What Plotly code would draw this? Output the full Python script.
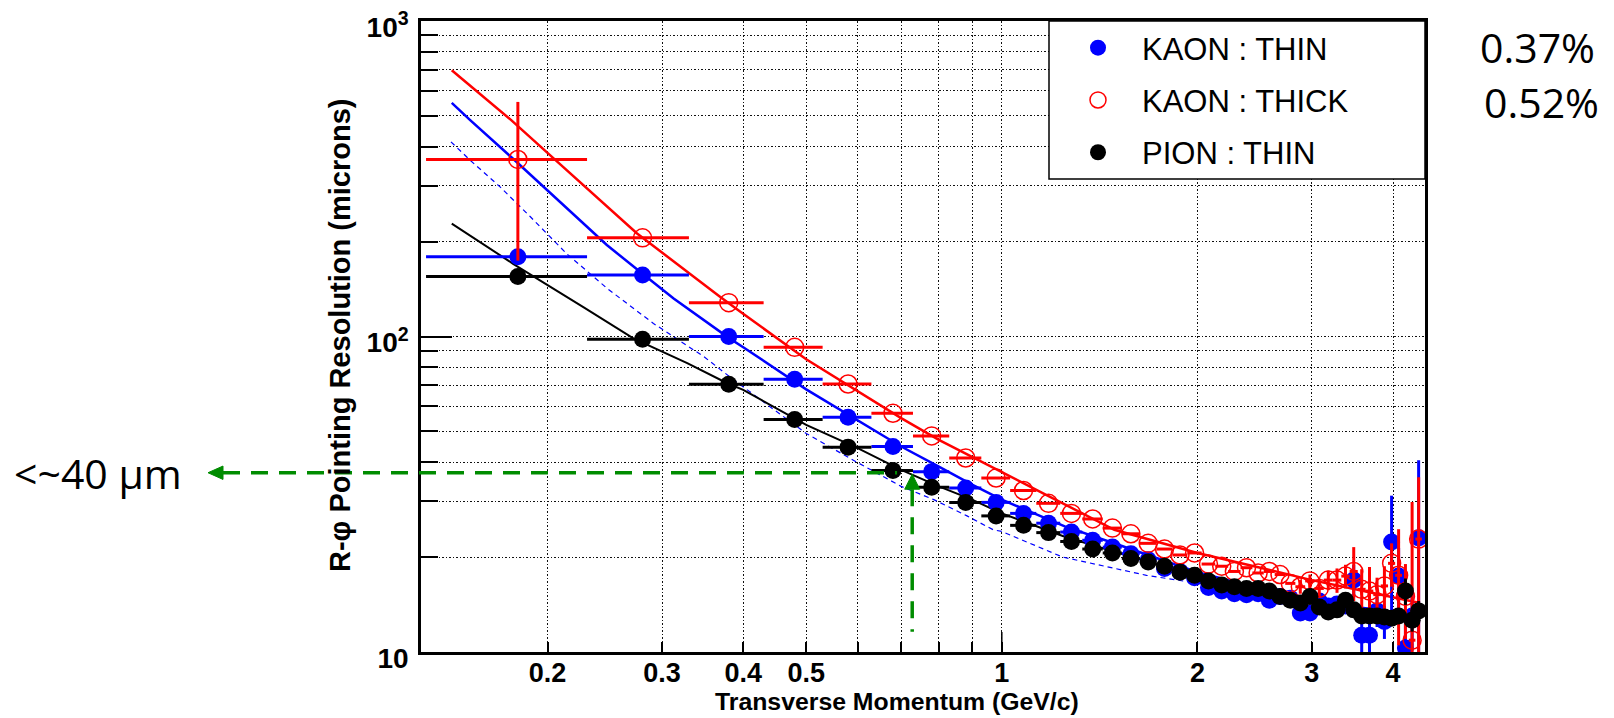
import math
import plotly.graph_objects as go

# ---------------- data ----------------
p_bins = [0.18, 0.28, 0.38, 0.48, 0.58, 0.68, 0.78, 0.88, 0.98, 1.08,
          1.18, 1.28, 1.38, 1.48, 1.58, 1.68, 1.78, 1.88, 1.98, 2.08,
          2.18, 2.28, 2.38, 2.48, 2.58, 2.68, 2.78, 2.88, 2.98, 3.08,
          3.18, 3.28, 3.38, 3.48, 3.58, 3.68, 3.78, 3.88, 3.98, 4.08,
          4.18, 4.28, 4.38]
p_half_width = 0.05

kaon_thin = [179, 156.6, 100, 73.2, 55.5, 44.8, 37.3, 33.1, 29.8, 27.5,
             25.6, 24.0, 22.6, 21.5, 20.5, 19.6, 18.4, 18.0, 17.2, 16.0,
             15.6, 15.3, 15.2, 15.3, 14.6, 15.0, 14.8, 13.3, 13.3, 14.5,
             14.0, 14.2, 14.0, 16.9, 11.3, 11.3, 13.5, 12.5, 22.3, 17.4,
             10.3, 13.0, 23.0]
kaon_thin_err = [0, 0, 0, 0, 0, 0, 0, 0, 0, 0,
                 0, 0, 0, 0, 0, 0, 0, 0, 0, 0,
                 0, 0, 0, 0, 0, 0, 0, 0.5, 0.5, 0.5,
                 0.6, 0.6, 0.8, 2.0, 1.5, 1.5, 1.5, 1.5, 9.0, 4.0,
                 3.0, 2.5, 17.5]

kaon_thick = [364, 205.5, 128, 92.4, 70.7, 57.1, 48.4, 41.2, 35.6, 32.5,
              29.6, 27.5, 26.4, 24.7, 23.7, 22.1, 21.2, 20.3, 20.6, 19.0,
              18.7, 18.0, 18.5, 17.8, 18.0, 17.6, 16.5, 16.1, 16.8, 15.9,
              16.9, 16.9, 17.4, 18.0, 15.8, 15.6, 15.2, 16.2, 19.1, 17.5,
              15.0, 10.9, 22.8]
kaon_thick_err = [190, 0, 0, 0, 0, 0, 0, 0, 0, 0,
                  0, 0, 0, 0, 0, 0, 0, 0, 0, 0,
                  0, 0, 0, 0, 0, 0, 0, 0.8, 0.8, 1.0,
                  1.2, 1.5, 1.5, 3.5, 2.5, 3.0, 2.0, 2.5, 3.0, 7.0,
                  4.0, 19.0, 13.0]

pion_thin = [155, 98, 70.6, 54.6, 44.6, 37.6, 33.3, 29.8, 27.0, 25.2,
             23.9, 22.4, 21.2, 20.6, 19.8, 19.3, 18.7, 17.9, 17.5, 16.8,
             16.3, 16.1, 15.9, 15.9, 15.6, 15.0, 14.6, 14.3, 15.0, 13.9,
             13.4, 13.6, 14.6, 13.6, 13.0, 13.0, 13.0, 12.9, 12.8, 13.0,
             15.6, 12.6, 13.5]
pion_thin_err = [0] * 28 + [0.4, 0.4, 0.4, 0.5, 0.5, 0.5, 0.5, 0.5,
                            0.5, 0.6, 0.6, 0.7, 1.5, 1.0, 1.0]

# fitted curves
fit_thick_p = [0.1424, 0.1758, 0.2043, 0.2746, 0.3684, 0.396, 0.5, 0.6, 0.7, 0.8,
               0.9, 1.0, 1.17, 1.49, 2.0, 2.5, 3.0, 3.5, 4.0, 4.4]
fit_thick_r = [698, 485, 367, 212, 133.7, 119.8, 84.7, 66.9, 55.1, 47.0,
               41.6, 37.1, 31.5, 24.4, 20.6, 18.5, 16.9, 15.8, 14.9, 14.3]

fit_thin_p = [0.1424, 0.152, 0.178, 0.2, 0.2467, 0.28, 0.3126, 0.38, 0.4, 0.5,
              0.6, 0.7, 0.8, 0.9, 1.0, 1.25, 1.5, 2.0, 2.5, 3.0, 3.5, 4.0, 4.4]
fit_thin_r = [550, 485, 362, 290, 195, 158, 132, 99, 92.5, 68,
              54.4, 44.8, 38.7, 33.9, 30.4, 25.0, 22.0, 17.9, 15.9, 14.7, 13.9, 13.4, 13.1]

fit_pion_p = [0.1424, 0.177, 0.227, 0.271, 0.328, 0.378, 0.4, 0.5, 0.6, 0.7,
              0.8, 0.9, 1.0, 1.25, 1.5, 2.0, 2.5, 3.0, 3.5, 4.0, 4.4]
fit_pion_r = [228, 170, 124, 98.7, 82.3, 71.1, 67.7, 52.5, 44.3, 37.8,
              33.5, 30.4, 27.5, 23.2, 20.7, 17.4, 15.7, 14.5, 13.6, 13.0, 12.7]

ideal_p = [0.142, 0.152, 0.169, 0.188, 0.214, 0.247, 0.291, 0.348, 0.387, 0.5,
           0.59, 0.7, 0.786, 0.884, 0.97, 1.0, 1.24, 1.67, 2.17, 3.0, 4.4]
ideal_r = [414, 362, 298, 240, 183, 142, 110, 86.3, 72.8, 49.3,
           40.6, 33.5, 30.4, 27.0, 24.4, 24.1, 20.0, 17.5, 16.1, 14.0, 12.6]

x_tick_vals = [0.2, 0.3, 0.4, 0.5, 1, 2, 3, 4]
x_tick_text = ["0.2", "0.3", "0.4", "0.5", "1", "2", "3", "4"]
x_minor_vals = [0.6, 0.7, 0.8, 0.9]
y_tick_vals = [10, 100, 1000]
y_tick_text = ["10", "10<sup>2</sup>", "10<sup>3</sup>"]
y_minor_vals = [20, 30, 40, 50, 60, 70, 80, 90, 200, 300, 400, 500, 600, 700, 800, 900]

x_range_vals = [0.1277, 4.48]
y_range_vals = [10, 1000]

# annotation (target resolution marker)
ann_p = 0.728        # GeV/c where the vertical arrow sits
ann_p_hend = 0.69    # end of horizontal dashed line
ann_res = 37.0       # microns
ann_res_low = 11.6   # bottom of vertical dashed line

# ---------------- layout geometry (page pixels) ----------------
W, H = 1614, 718
PAGE_OFF = 8                     # default body margin of the html page
ML, MT = 421, 21                 # plot-area left / top on the page
PW, PH = 1004, 631               # plot-area size
XR = [math.log10(v) for v in x_range_vals]
YR = [math.log10(v) for v in y_range_vals]


def xpaper(v):
    return (math.log10(v) - XR[0]) / (XR[1] - XR[0])


def ypaper(v):
    return (math.log10(v) - YR[0]) / (YR[1] - YR[0])


def px2x(px):
    return (px - ML) / PW


def py2y(py):
    return (MT + PH - py) / PH


BLUE = "#0000ff"
RED = "#ff0000"
BLACK = "#000000"
GREEN = "#008c00"
FONT = "Liberation Sans, Arial, sans-serif"
SANS = "Open Sans, Noto Sans, sans-serif"

fig = go.Figure()

# fit curves
fig.add_trace(go.Scatter(x=ideal_p, y=ideal_r, mode="lines", showlegend=False,
                         line=dict(color=BLUE, width=1.2, dash="5px,4px"), hoverinfo="skip"))
fig.add_trace(go.Scatter(x=fit_thick_p, y=fit_thick_r, mode="lines", showlegend=False,
                         line=dict(color=RED, width=2.5), hoverinfo="skip"))
fig.add_trace(go.Scatter(x=fit_thin_p, y=fit_thin_r, mode="lines", showlegend=False,
                         line=dict(color=BLUE, width=2.5), hoverinfo="skip"))
fig.add_trace(go.Scatter(x=fit_pion_p, y=fit_pion_r, mode="lines", showlegend=False,
                         line=dict(color=BLACK, width=2), hoverinfo="skip"))


def err(arr, color):
    return dict(type="data", array=arr, visible=True, color=color, thickness=3, width=0)


def xerr(color):
    return dict(type="constant", value=p_half_width, visible=True, color=color, thickness=3, width=0)


fig.add_trace(go.Scatter(x=p_bins, y=kaon_thin, mode="markers", name="KAON : THIN",
                         legendgroup="a",
                         marker=dict(symbol="circle", size=17, color=BLUE),
                         error_x=xerr(BLUE), error_y=err(kaon_thin_err, BLUE)))
fig.add_trace(go.Scatter(x=p_bins, y=kaon_thick, mode="markers", name="KAON : THICK",
                         legendgroup="b",
                         marker=dict(symbol="circle-open", size=18, color=RED, line=dict(width=1.5, color=RED)),
                         error_x=xerr(RED), error_y=err(kaon_thick_err, RED)))
fig.add_trace(go.Scatter(x=p_bins, y=pion_thin, mode="markers", name="PION : THIN",
                         legendgroup="c",
                         marker=dict(symbol="circle", size=17, color=BLACK),
                         error_x=xerr(BLACK), error_y=err(pion_thin_err, BLACK)))

grid = dict(showgrid=True, gridcolor="#111111", gridwidth=1.2, griddash="1.5px,2px")

fig.update_xaxes(type="log", range=XR, tickvals=x_tick_vals, ticktext=x_tick_text,
                 ticks="inside", ticklen=10, tickwidth=1.5, tickcolor="black",
                 showline=True, linewidth=2.5, linecolor="black", mirror=True, zeroline=False,
                 automargin=False, ticklabeloverflow="allow",
                 tickfont=dict(family=FONT, size=27, color="black", weight="bold"),
                 ticklabelstandoff=-5,
                 minor=dict(tickvals=x_minor_vals, ticks="inside", ticklen=10, tickwidth=1.5,
                            tickcolor="black", **grid),
                 **grid)
fig.update_yaxes(type="log", range=YR, tickvals=y_tick_vals, ticktext=y_tick_text,
                 ticks="inside", ticklen=31, tickwidth=1.5, tickcolor="black",
                 showline=True, linewidth=2.5, linecolor="black", mirror=True, zeroline=False,
                 automargin=False, ticklabeloverflow="allow",
                 tickfont=dict(family=FONT, size=28, color="black", weight="bold"),
                 ticklabelstandoff=4, ticklabelshift=6,
                 minor=dict(tickvals=y_minor_vals, ticks="inside", ticklen=17, tickwidth=1.5,
                            tickcolor="black", **grid),
                 **grid)

shapes = []
# legend frame
shapes.append(dict(type="rect", xref="paper", yref="paper",
                   x0=px2x(1049), x1=1.0, y0=py2y(179), y1=1.0,
                   fillcolor="white", line=dict(color="black", width=1.5), layer="above"))
# longer tick at p = 1
shapes.append(dict(type="line", xref="paper", yref="paper", x0=xpaper(1), x1=xpaper(1),
                   y0=0, y1=20 / PH, line=dict(color="black", width=1.5)))
# green annotation: horizontal arrow to the label
gy = ypaper(ann_res)
tip_x = px2x(208)
base_x = px2x(223)
hh = 6.7 / PH
shapes.append(dict(type="line", xref="paper", yref="paper", x0=base_x, x1=xpaper(ann_p_hend),
                   y0=gy, y1=gy, line=dict(color=GREEN, width=3.5, dash="17px,11px")))
shapes.append(dict(type="path", xref="paper", yref="paper",
                   path=f"M {tip_x},{gy} L {base_x},{gy + hh} L {base_x},{gy - hh} Z",
                   fillcolor=GREEN, line=dict(color=GREEN, width=1)))
# vertical arrow
vx = xpaper(ann_p)
vtip = ypaper(ann_res) - 1.5 / PH
vbase = vtip - 15 / PH
hw = 7.5 / PW
shapes.append(dict(type="line", xref="paper", yref="paper", x0=vx, x1=vx,
                   y0=vbase, y1=ypaper(ann_res_low), line=dict(color=GREEN, width=3.5, dash="17px,11px")))
shapes.append(dict(type="path", xref="paper", yref="paper",
                   path=f"M {vx},{vtip} L {vx - hw},{vbase} L {vx + hw},{vbase} Z",
                   fillcolor=GREEN, line=dict(color=GREEN, width=1)))

annotations = [
    dict(text="Transverse Momentum (GeV/c)", xref="paper", yref="paper",
         x=px2x(897), y=py2y(701), xanchor="center", yanchor="middle",
         showarrow=False, font=dict(family=FONT, size=24.8, color="black", weight="bold")),
    dict(text="R-φ Pointing Resolution (microns)", xref="paper", yref="paper",
         x=px2x(340), y=py2y(336), xanchor="center", yanchor="middle", textangle=-90,
         showarrow=False, font=dict(family=FONT, size=29, color="black", weight="bold")),
    dict(text="<~40 μm", xref="paper", yref="paper", x=px2x(12), y=gy,
         xanchor="left", yanchor="middle", showarrow=False,
         font=dict(family=SANS, size=41, color="black")),
    dict(text="0.37%", xref="paper", yref="paper", x=px2x(1537), y=py2y(47),
         xanchor="center", yanchor="middle", showarrow=False,
         font=dict(family=SANS, size=41, color="black")),
    dict(text="0.52%", xref="paper", yref="paper", x=px2x(1541), y=py2y(102),
         xanchor="center", yanchor="middle", showarrow=False,
         font=dict(family=SANS, size=41, color="black")),
]

fig.update_layout(
    width=W, height=H,
    margin=dict(l=ML - PAGE_OFF, r=W - ML - PW + PAGE_OFF,
                t=MT - PAGE_OFF, b=H - MT - PH + PAGE_OFF, autoexpand=False),
    plot_bgcolor="white", paper_bgcolor="white",
    shapes=shapes, annotations=annotations,
    showlegend=True,
    legend=dict(x=px2x(1054), xanchor="left", y=py2y(21), yanchor="top",
                bgcolor="rgba(0,0,0,0)", borderwidth=0, tracegroupgap=9, itemwidth=78,
                font=dict(family=FONT, size=31, color="black")),
)

fig.write_html("out.html")
